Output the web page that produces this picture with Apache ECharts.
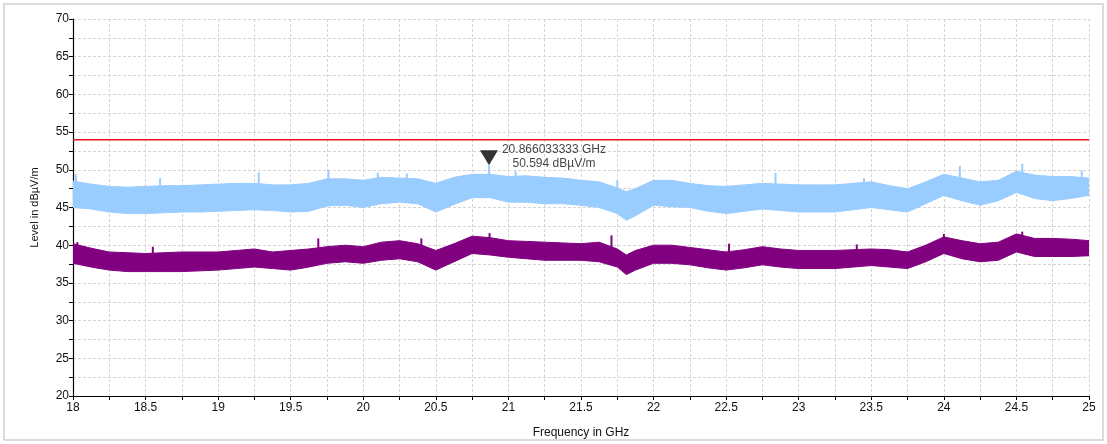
<!DOCTYPE html>
<html>
<head>
<meta charset="utf-8">
<script src="https://cdn.jsdelivr.net/npm/echarts@6/dist/echarts.min.js"></script>
<style>html,body{margin:0;padding:0;background:#fff}#c{width:1107px;height:444px}</style>
</head>
<body>
<div id="c"></div>
<script>
// Frequency sample points (GHz)
const freqs = [18.0,18.125,18.25,18.375,18.5,18.625,18.75,18.875,19.0,19.125,19.25,19.375,19.5,19.625,19.75,19.875,20.0,20.125,20.25,20.375,20.5,20.625,20.75,20.875,21.0,21.125,21.25,21.375,21.5,21.625,21.75,21.8125,21.875,22.0,22.125,22.25,22.375,22.5,22.625,22.75,22.875,23.0,23.125,23.25,23.375,23.5,23.625,23.75,23.875,24.0,24.125,24.25,24.375,24.5,24.625,24.75,24.875,25.0];
// Peak trace (light blue) envelope, dBµV/m
const peakUpper = [48.5,48.1,47.8,47.7,47.8,47.9,47.9,48.0,48.1,48.2,48.2,48.0,48.0,48.2,48.8,48.8,48.6,49.0,48.9,48.8,48.2,49.0,49.4,49.4,49.1,49.2,49.0,48.9,48.6,48.4,47.6,47.1,47.5,48.6,48.6,48.2,47.9,47.8,48.0,48.2,48.1,48.0,48.0,48.0,48.2,48.4,47.9,47.5,48.4,49.4,48.9,48.4,48.6,49.8,49.3,49.1,49.1,48.9];
const peakLower = [45.0,44.8,44.4,44.2,44.2,44.3,44.4,44.4,44.5,44.6,44.7,44.6,44.4,44.5,45.2,45.3,45.0,45.5,45.7,45.5,44.4,45.4,46.3,46.3,45.7,45.7,45.5,45.5,45.3,45.0,44.2,43.3,43.9,45.3,45.1,45.0,44.5,44.2,44.5,44.8,44.6,44.4,44.4,44.4,44.7,45.0,44.7,44.4,45.5,46.6,45.9,45.3,45.9,47.0,46.2,45.9,46.2,46.6];
// Average trace (purple) envelope, dBµV/m
const avgUpper = [40.2,39.6,39.1,39.0,38.9,39.0,39.1,39.1,39.1,39.3,39.5,39.1,39.3,39.5,39.8,40.0,39.8,40.4,40.6,40.2,39.3,40.2,41.2,41.0,40.6,40.5,40.4,40.3,40.2,40.4,39.5,38.7,39.3,40.0,40.0,39.7,39.4,39.1,39.4,39.8,39.5,39.3,39.3,39.3,39.4,39.5,39.4,39.1,40.0,41.1,40.6,40.2,40.4,41.5,40.9,40.9,40.8,40.6];
const avgLower = [37.6,37.1,36.7,36.5,36.5,36.5,36.5,36.6,36.7,36.9,37.1,36.9,36.7,37.1,37.6,37.8,37.6,38.0,38.2,37.8,36.7,37.8,38.9,38.7,38.4,38.2,38.0,38.0,38.0,37.8,37.1,36.1,36.7,37.6,37.6,37.4,37.0,36.7,37.0,37.4,37.1,36.9,36.9,36.9,37.1,37.3,37.1,36.9,37.8,38.9,38.2,37.8,38.0,39.1,38.5,38.5,38.5,38.6];
// Tallest visible spikes above each band: [GHz, dBµV/m]
const peakSpikes = [[18.02,49.4],[18.6,48.9],[19.28,49.65],[19.76,50.0],[20.1,49.6],[20.3,49.5],[20.866033333,50.594],[21.05,49.8],[21.75,48.6],[22.84,49.6],[23.45,48.9],[24.11,50.5],[24.54,50.8],[24.95,49.9]];
const avgSpikes = [[18.03,40.4],[18.55,39.8],[19.69,40.9],[20.4,40.9],[20.87,41.6],[21.71,41.3],[22.52,40.2],[23.4,40.1],[24.0,41.5],[24.54,41.8]];
// Limit line
const limitValue = 54;
// Marker
const markerFreq = 20.866033333;
const markerLevel = 50.594;
// Axis ranges
const xMin = 18, xMax = 25, xStep = 0.5;
const yMin = 20, yMax = 70, yStep = 5;

function bandSeries(name, upper, lower, color) {
  return {
    name: name, type: 'custom', clip: true, silent: true,
    data: [[freqs[0], lower[0]]],
    renderItem: function (params, api) {
      const pts = [];
      for (let i = 0; i < freqs.length; i++) pts.push(api.coord([freqs[i], upper[i]]));
      for (let i = freqs.length - 1; i >= 0; i--) pts.push(api.coord([freqs[i], lower[i]]));
      return { type: 'polygon', shape: { points: pts }, style: { fill: color, stroke: color, lineWidth: 1 } };
    },
    z: 3
  };
}
function interp(arr, f) {
  for (let i = 0; i < freqs.length - 1; i++) {
    if (f >= freqs[i] && f <= freqs[i + 1]) {
      const t = (f - freqs[i]) / (freqs[i + 1] - freqs[i]);
      return arr[i] + t * (arr[i + 1] - arr[i]);
    }
  }
  return arr[arr.length - 1];
}
function spikeSeries(name, spikes, upper, color) {
  return {
    name: name, type: 'custom', clip: true, silent: true,
    data: spikes.map(s => [s[0], interp(upper, s[0]) - 0.5, s[1]]),
    renderItem: function (params, api) {
      const a = api.coord([api.value(0), api.value(1)]);
      const b = api.coord([api.value(0), api.value(2)]);
      return { type: 'rect', shape: { x: a[0] - 1, y: b[1], width: 2, height: a[1] - b[1] }, style: { fill: color } };
    },
    z: 3
  };
}

const chart = echarts.init(document.getElementById('c'), null, { renderer: 'canvas' });
const gridLine = { show: true, lineStyle: { color: '#d4d4d4', type: [3, 2], width: 1 } };
const FF = 'Liberation Sans, Arial, sans-serif';
const axisFont = { fontFamily: FF, fontSize: 12, color: '#111' };

chart.setOption({
  animation: false,
  backgroundColor: '#fff',
  graphic: [{
    type: 'rect',
    shape: { x: 4, y: 4, width: 1099, height: 436 },
    style: { fill: 'none', stroke: '#d0d0d0', lineWidth: 1.5 },
    z: -1
  }],
  grid: { left: 73, right: 18, top: 19, bottom: 46 },
  xAxis: {
    type: 'value', min: xMin, max: xMax, interval: xStep,
    name: 'Frequency in GHz', nameLocation: 'middle', nameGap: 31,
    nameTextStyle: { fontFamily: FF, fontSize: 12, color: '#111' },
    axisLine: { show: true, lineStyle: { color: '#000', width: 1.2 } },
    axisTick: { show: true, length: 4, lineStyle: { color: '#000' } },
    minorTick: { show: true, splitNumber: 2, length: 4, lineStyle: { color: '#000' } },
    axisLabel: Object.assign({ margin: 6 }, axisFont),
    splitLine: gridLine,
    minorSplitLine: gridLine
  },
  yAxis: {
    type: 'value', min: yMin, max: yMax, interval: yStep,
    name: 'Level in dBµV/m', nameLocation: 'middle', nameGap: 33,
    nameTextStyle: { fontFamily: FF, fontSize: 11, color: '#111' },
    axisLine: { show: true, lineStyle: { color: '#000', width: 1.2 } },
    axisTick: { show: true, length: 4, lineStyle: { color: '#000' } },
    minorTick: { show: true, splitNumber: 2, length: 4, lineStyle: { color: '#000' } },
    axisLabel: Object.assign({ margin: 4 }, axisFont),
    splitLine: gridLine,
    minorSplitLine: gridLine
  },
  series: [
    bandSeries('Peak', peakUpper, peakLower, '#99ccff'),
    spikeSeries('PeakSpikes', peakSpikes, peakUpper, '#99ccff'),
    bandSeries('Average', avgUpper, avgLower, '#800080'),
    spikeSeries('AvgSpikes', avgSpikes, avgUpper, '#800080'),
    {
      name: 'Limit', type: 'line', symbol: 'none', silent: true,
      data: [[xMin, limitValue], [xMax, limitValue]],
      lineStyle: { color: '#e8141e', width: 1.5 }, z: 4
    },
    {
      name: 'Marker', type: 'scatter', silent: true,
      data: [[markerFreq, markerLevel]],
      symbol: 'triangle', symbolRotate: 180, symbolSize: [18, 15], symbolOffset: [0, '-50%'],
      itemStyle: { color: '#000' },
      label: {
        show: true, position: [74, 6], align: 'center', verticalAlign: 'middle',
        fontFamily: FF, fontSize: 12, color: '#111', lineHeight: 14,
        formatter: function (p) {
          return p.value[0].toFixed(9) + ' GHz\n' + p.value[1].toFixed(3) + ' dBµV/m';
        }
      },
      z: 5
    }
  ]
});
</script>
</body>
</html>
